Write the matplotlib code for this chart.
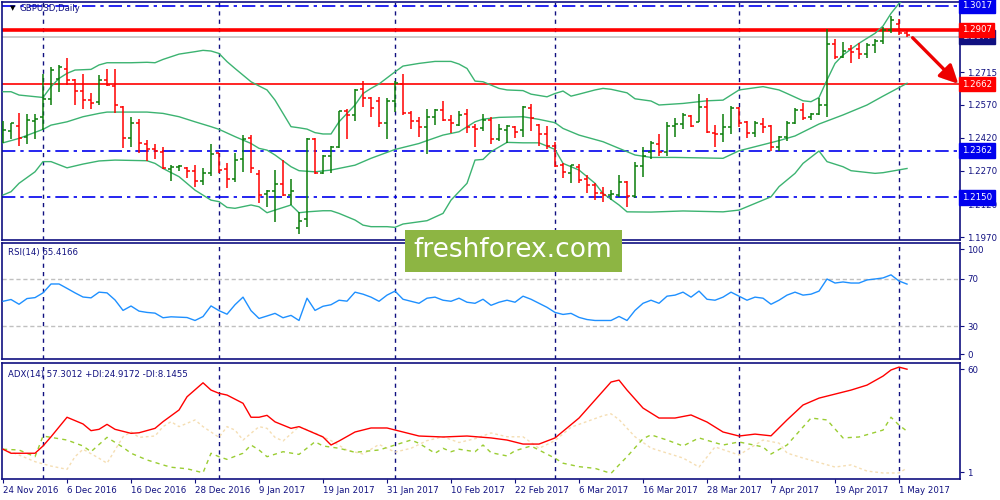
import numpy as np
import matplotlib.pyplot as plt
import matplotlib.patheffects as pe
from matplotlib.patches import Rectangle

# ---- GBPUSD daily bars, 24 Nov 2016 .. 2 May 2017 ----
opens = [1.2432, 1.2452, 1.2473, 1.2422, 1.2497, 1.2512, 1.2593, 1.2684, 1.2729, 1.2681,
         1.2631, 1.2589, 1.2581, 1.2681, 1.2655, 1.2557, 1.2417, 1.2485, 1.2391, 1.2370,
         1.2355, 1.2277, 1.2286, 1.2283, 1.2271, 1.2226, 1.2259, 1.2349, 1.2277, 1.2232,
         1.2322, 1.2417, 1.2256, 1.2165, 1.2177, 1.2211, 1.2162, 1.2010, 1.2051, 1.2414,
         1.2259, 1.2337, 1.2376, 1.2542, 1.2523, 1.2639, 1.2599, 1.2584, 1.2485, 1.2584,
         1.2663, 1.2530, 1.2494, 1.2467, 1.2512, 1.2545, 1.2500, 1.2476, 1.2527, 1.2470,
         1.2462, 1.2500, 1.2413, 1.2455, 1.2470, 1.2455, 1.2553, 1.2476, 1.2437, 1.2382,
         1.2295, 1.2262, 1.2289, 1.2232, 1.2208, 1.2171, 1.2159, 1.2159, 1.2220, 1.2156,
         1.2292, 1.2357, 1.2391, 1.2357, 1.2473, 1.2482, 1.2518, 1.2492, 1.2557, 1.2443,
         1.2437, 1.2470, 1.2553, 1.2492, 1.2443, 1.2482, 1.2473, 1.2379, 1.2422, 1.2488,
         1.2545, 1.2512, 1.2527, 1.2568, 1.2843, 1.2786, 1.2819, 1.2822, 1.2798, 1.2839,
         1.2859, 1.2907, 1.2934, 1.2892]
highs = [1.2497, 1.2488, 1.2530, 1.2526, 1.2526, 1.2706, 1.2738, 1.2750, 1.2780, 1.2684,
         1.2708, 1.2623, 1.2703, 1.2729, 1.2729, 1.2565, 1.2512, 1.2503, 1.2409, 1.2391,
         1.2376, 1.2299, 1.2298, 1.2289, 1.2295, 1.2281, 1.2391, 1.2352, 1.2304, 1.2349,
         1.2432, 1.2432, 1.2274, 1.2186, 1.2274, 1.2319, 1.2232, 1.2084, 1.2417, 1.2417,
         1.2342, 1.2382, 1.2542, 1.2548, 1.2639, 1.2676, 1.2605, 1.2602, 1.2599, 1.2676,
         1.2709, 1.2539, 1.2512, 1.2551, 1.2548, 1.2587, 1.2521, 1.2542, 1.2548, 1.2482,
         1.2527, 1.2512, 1.2482, 1.2479, 1.2473, 1.2563, 1.2572, 1.2482, 1.2473, 1.2400,
         1.2307, 1.2298, 1.2301, 1.2250, 1.2214, 1.2199, 1.2186, 1.2253, 1.2223, 1.2310,
         1.2379, 1.2403, 1.2437, 1.2492, 1.2507, 1.2530, 1.2523, 1.2617, 1.2598, 1.2476,
         1.2527, 1.2563, 1.2557, 1.2497, 1.2497, 1.2507, 1.2477, 1.2428, 1.2497, 1.2553,
         1.2575, 1.2533, 1.2598, 1.2910, 1.2865, 1.2854, 1.2839, 1.2847, 1.2847, 1.2865,
         1.2919, 1.2970, 1.2955, 1.2904]
lows = [1.2397, 1.2416, 1.2382, 1.2390, 1.2414, 1.2455, 1.2568, 1.2628, 1.2657, 1.2569,
        1.2548, 1.2550, 1.2568, 1.2655, 1.2530, 1.2375, 1.2379, 1.2352, 1.2313, 1.2322,
        1.2278, 1.2226, 1.2268, 1.2239, 1.2199, 1.2208, 1.2247, 1.2259, 1.2195, 1.2218,
        1.2266, 1.2259, 1.2123, 1.2105, 1.2037, 1.2156, 1.2114, 1.1985, 1.2015, 1.2256,
        1.2256, 1.2259, 1.2372, 1.2416, 1.2497, 1.2557, 1.2515, 1.2467, 1.2413, 1.2538,
        1.2524, 1.2458, 1.2425, 1.2345, 1.2476, 1.2497, 1.2440, 1.2473, 1.2440, 1.2379,
        1.2452, 1.2391, 1.2406, 1.2397, 1.2419, 1.2425, 1.2452, 1.2382, 1.2370, 1.2286,
        1.2238, 1.2214, 1.2217, 1.2168, 1.2138, 1.2131, 1.2138, 1.2153, 1.2105, 1.2147,
        1.2241, 1.2322, 1.2337, 1.2337, 1.2422, 1.2458, 1.2470, 1.2492, 1.2443, 1.2376,
        1.2402, 1.2437, 1.2467, 1.2417, 1.2422, 1.2443, 1.2361, 1.2361, 1.2406, 1.2482,
        1.2500, 1.2500, 1.2523, 1.2515, 1.2774, 1.2779, 1.2759, 1.2774, 1.2779, 1.2804,
        1.2843, 1.2892, 1.2884, 1.2874]
closes = [1.2455, 1.2485, 1.2417, 1.2500, 1.2503, 1.2593, 1.2726, 1.2738, 1.2681, 1.2631,
          1.2589, 1.2575, 1.2681, 1.2658, 1.2566, 1.2417, 1.2485, 1.2394, 1.2367, 1.2361,
          1.2283, 1.2289, 1.2292, 1.2271, 1.2226, 1.2262, 1.2346, 1.2274, 1.2235, 1.2319,
          1.2416, 1.2283, 1.2161, 1.2180, 1.2211, 1.2162, 1.2180, 1.2042, 1.2416, 1.2259,
          1.2337, 1.2376, 1.2539, 1.2523, 1.2636, 1.2599, 1.2554, 1.2485, 1.2584, 1.2666,
          1.2533, 1.2494, 1.2467, 1.2512, 1.2545, 1.2500, 1.2488, 1.2523, 1.2467, 1.2458,
          1.2500, 1.2416, 1.2458, 1.2473, 1.2446, 1.2557, 1.2509, 1.2437, 1.2382, 1.2292,
          1.2265, 1.2295, 1.2229, 1.2208, 1.2168, 1.2162, 1.2165, 1.2220, 1.2156, 1.2292,
          1.2337, 1.2397, 1.2357, 1.2473, 1.2482, 1.2523, 1.2473, 1.2557, 1.2447, 1.2437,
          1.2470, 1.2553, 1.2488, 1.2443, 1.2485, 1.2470, 1.2379, 1.2422, 1.2488, 1.2545,
          1.2507, 1.2527, 1.2568, 1.2843, 1.2783, 1.2813, 1.2809, 1.2798, 1.2839, 1.2859,
          1.2907, 1.2952, 1.2892, 1.2886]

# Bollinger bands (20, 2): bar index -> price
bb_up_idx = [0, 1, 2, 5, 6, 7, 8, 9, 11, 12, 13, 16, 18, 19, 20, 22, 24, 25, 26, 27, 28, 29,
             30, 31, 32, 33, 34, 35, 36, 37, 38, 39, 40, 41, 42, 44, 45, 46, 47, 49, 50, 52,
             54, 56, 57, 58, 59, 60, 62, 63, 65, 66, 68, 69, 70, 71, 72, 74, 75, 76, 78, 79,
             81, 82, 85, 88, 90, 91, 92, 95, 97, 98, 100, 101, 102, 103, 104, 105, 107, 109,
             110, 111, 112, 113]
bb_up = [1.2628, 1.2628, 1.2613, 1.2602, 1.2651, 1.2688, 1.2711, 1.2726, 1.2729, 1.2749,
         1.2759, 1.2759, 1.2761, 1.2759, 1.2774, 1.2798, 1.2809, 1.2815, 1.2812, 1.2801,
         1.2764, 1.2733, 1.2703, 1.2673, 1.2654, 1.2636, 1.2590, 1.2530, 1.2470, 1.2465,
         1.2459, 1.2443, 1.2437, 1.2437, 1.2492, 1.2568, 1.2620, 1.2643, 1.2663, 1.2718,
         1.2744, 1.2756, 1.2765, 1.2765, 1.2753, 1.2733, 1.2676, 1.2673, 1.2643, 1.2636,
         1.2633, 1.2617, 1.2605, 1.2620, 1.2631, 1.2608, 1.2617, 1.2636, 1.2643, 1.2639,
         1.2623, 1.2596, 1.2586, 1.2568, 1.2575, 1.2587, 1.2590, 1.2613, 1.2636, 1.2651,
         1.2636, 1.2620, 1.2587, 1.2583, 1.2602, 1.2681, 1.2756, 1.2794, 1.2847, 1.2892,
         1.2925, 1.2982, 1.3027, 1.3057]
bb_mid_idx = [0, 2, 5, 6, 8, 10, 12, 13, 16, 18, 20, 22, 24, 26, 27, 29, 31, 32, 33, 34, 36,
              37, 39, 41, 44, 46, 49, 52, 53, 55, 57, 59, 60, 62, 65, 67, 69, 70, 72, 75, 77,
              79, 81, 84, 90, 92, 97, 99, 102, 105, 108, 110, 113]
bb_mid = [1.2397, 1.2417, 1.2458, 1.2477, 1.2492, 1.2515, 1.2530, 1.2536, 1.2536, 1.2536,
          1.2530, 1.2515, 1.2492, 1.2470, 1.2458, 1.2425, 1.2394, 1.2372, 1.2364, 1.2342,
          1.2289, 1.2271, 1.2266, 1.2274, 1.2296, 1.2327, 1.2367, 1.2394, 1.2407, 1.2432,
          1.2447, 1.2492, 1.2504, 1.2512, 1.2515, 1.2503, 1.2488, 1.2462, 1.2432, 1.2402,
          1.2372, 1.2342, 1.2331, 1.2331, 1.2327, 1.2361, 1.2407, 1.2428, 1.2482, 1.2523,
          1.2568, 1.2608, 1.2666]
bb_low_idx = [0, 1, 2, 4, 5, 6, 8, 10, 12, 14, 18, 19, 20, 22, 24, 26, 27, 28, 29, 31, 32,
              33, 34, 36, 37, 38, 40, 41, 42, 44, 45, 46, 48, 49, 50, 52, 53, 55, 56, 58, 59,
              60, 61, 63, 65, 67, 69, 70, 72, 74, 75, 77, 78, 81, 85, 90, 92, 95, 96, 97, 99,
              100, 102, 103, 105, 106, 109, 110, 113]
bb_low = [1.2161, 1.2176, 1.2214, 1.2266, 1.2312, 1.2312, 1.2284, 1.2301, 1.2315, 1.2319,
          1.2316, 1.2304, 1.2281, 1.2244, 1.2183, 1.2138, 1.2131, 1.2105, 1.2101, 1.2116,
          1.2108, 1.2081, 1.2093, 1.2116, 1.2081, 1.2085, 1.2090, 1.2090, 1.2078, 1.2048,
          1.2025, 1.2018, 1.2018, 1.2015, 1.2030, 1.2040, 1.2045, 1.2078, 1.2138, 1.2214,
          1.2319, 1.2322, 1.2357, 1.2399, 1.2397, 1.2397, 1.2367, 1.2304, 1.2274, 1.2214,
          1.2168, 1.2116, 1.2085, 1.2084, 1.2089, 1.2085, 1.2093, 1.2138, 1.2153, 1.2199,
          1.2259, 1.2304, 1.2360, 1.2312, 1.2289, 1.2271, 1.2259, 1.2262, 1.2281]

# RSI(14), one value per bar
rsi = [50.9, 52.4, 48.4, 53.2, 54.0, 58.0, 65.5, 65.5, 61.8, 58.0,
       54.5, 53.8, 58.6, 58.0, 52.0, 43.2, 46.9, 42.6, 41.5, 40.9,
       37.0, 37.8, 37.5, 37.2, 34.7, 38.0, 47.0, 43.0, 40.0, 48.0,
       54.4, 43.0, 36.4, 38.5, 40.7, 37.0, 39.0, 34.7, 53.5, 43.2,
       46.7, 48.0, 51.8, 51.0, 58.6, 56.9, 54.4, 50.9, 56.1, 59.5,
       52.6, 50.9, 49.2, 53.5, 54.4, 51.8, 50.9, 53.5, 50.1, 49.2,
       52.6, 47.5, 50.1, 51.8, 50.1, 55.2, 52.6, 49.2, 45.8, 41.5,
       39.8, 40.7, 37.3, 35.5, 34.7, 34.7, 34.7, 38.1, 34.7, 43.2,
       49.2, 51.8, 49.2, 55.2, 56.1, 58.6, 54.4, 59.5, 52.6, 51.8,
       54.4, 58.6, 55.2, 51.8, 54.4, 53.5, 48.4, 51.8, 56.1, 58.6,
       56.1, 56.9, 59.5, 69.7, 66.3, 67.2, 66.3, 66.3, 68.9, 69.7,
       70.6, 73.2, 68.0, 65.4]

# ADX(14) with +DI / -DI, read at sample bars
adx_idx = [0, 1, 4, 5, 6, 8, 10, 11, 12, 13, 14, 16, 17, 19, 20, 22, 23, 25, 26, 27, 28, 30,
           31, 32, 33, 34, 36, 37, 40, 41, 42, 44, 46, 48, 50, 52, 55, 58, 61, 63, 65, 67,
           69, 72, 74, 76, 77, 78, 80, 82, 84, 86, 88, 90, 92, 94, 96, 98, 100, 102, 104,
           106, 108, 110, 111, 112, 113]
adx = [15.5, 13.4, 13.4, 17.2, 22.0, 32.2, 28.7, 25.2, 25.9, 28.5, 25.9, 23.8, 24.1, 26.4,
       29.9, 36.0, 42.9, 50.2, 46.4, 44.7, 43.8, 39.5, 32.2, 32.2, 33.2, 29.8, 26.4, 27.3,
       21.9, 17.7, 19.8, 24.5, 26.6, 26.6, 24.5, 22.4, 21.9, 22.4, 21.4, 20.3, 18.2, 18.2,
       21.4, 31.8, 41.2, 50.6, 51.6, 46.4, 37.0, 31.8, 31.8, 33.4, 29.7, 24.5, 22.4, 23.4,
       22.5, 30.8, 38.6, 42.2, 44.3, 46.4, 49.0, 53.7, 56.9, 58.4, 57.3]
pdi_idx = [0, 2, 4, 5, 6, 8, 10, 11, 13, 15, 16, 18, 20, 21, 23, 25, 26, 27, 28, 30, 31, 32,
           33, 35, 37, 39, 40, 42, 44, 47, 49, 51, 52, 54, 55, 56, 57, 59, 60, 61, 63, 64,
           66, 69, 70, 72, 74, 76, 77, 78, 80, 81, 83, 85, 87, 90, 92, 95, 96, 98, 101, 103,
           105, 107, 110, 111, 112, 113]
pdi = [15.5, 15.1, 11.6, 22.4, 21.7, 20.3, 17.2, 14.2, 21.7, 16.5, 13.4, 9.9, 7.3, 6.1, 5.3,
       3.2, 13.4, 11.6, 10.2, 13.4, 17.7, 15.1, 11.6, 14.2, 12.8, 19.4, 17.2, 16.0, 13.9,
       15.1, 17.7, 20.3, 18.6, 13.4, 16.0, 14.2, 15.5, 14.2, 17.7, 13.7, 12.0, 14.7, 17.2,
       10.8, 8.2, 6.4, 5.5, 2.9, 7.3, 11.6, 21.0, 23.0, 20.3, 17.2, 21.4, 17.7, 19.3, 16.7,
       13.0, 17.7, 31.8, 30.8, 21.4, 21.9, 25.5, 32.2, 28.1, 24.9]
mdi_idx = [0, 2, 4, 6, 8, 9, 10, 12, 13, 15, 16, 17, 19, 20, 21, 22, 24, 25, 27, 28, 29, 30,
           32, 33, 34, 35, 37, 39, 41, 43, 45, 47, 49, 51, 53, 55, 57, 59, 61, 63, 65, 67,
           69, 71, 73, 75, 76, 77, 79, 81, 83, 85, 87, 89, 92, 95, 97, 98, 100, 104, 106,
           108, 110, 112, 113]
mdi = [15.5, 12.5, 9.0, 6.7, 5.0, 11.6, 15.5, 10.8, 8.2, 22.0, 24.6, 21.7, 22.4, 27.3, 29.9,
       27.3, 30.8, 27.3, 21.7, 27.3, 25.5, 20.3, 27.3, 26.4, 21.7, 19.8, 27.3, 24.0, 20.0,
       15.0, 13.0, 18.0, 14.0, 16.0, 20.0, 22.0, 19.0, 21.0, 24.0, 22.0, 22.0, 16.0, 20.0,
       27.0, 30.0, 33.0, 34.0, 31.0, 22.0, 16.1, 13.5, 10.9, 6.2, 16.7, 12.5, 20.3, 18.7,
       13.5, 10.9, 6.2, 7.3, 4.1, 3.1, 3.1, 5.7]

# axis text
month_start_idx = [5, 27, 49, 69, 92, 112]
date_tick_idx = [0, 8, 16, 24, 32, 40, 48, 56, 64, 72, 80, 88, 96, 104, 112]
date_labels = ["24 Nov 2016", "6 Dec 2016", "16 Dec 2016", "28 Dec 2016", "9 Jan 2017",
               "19 Jan 2017", "31 Jan 2017", "10 Feb 2017", "22 Feb 2017", "6 Mar 2017",
               "16 Mar 2017", "28 Mar 2017", "7 Apr 2017", "19 Apr 2017", "1 May 2017"]
price_ticks = [1.2715, 1.2570, 1.2420, 1.2270, 1.2120, 1.1970]
blue_levels = [1.3017, 1.2362, 1.2150]
red_levels = [1.2907, 1.2662]
bid_level = 1.2877

NAVY = "#101080"
BULL = "#0a7d0a"
BEAR = "#ff0000"
BAND = "#3cb371"
FS = 6.2

plt.rcParams["font.family"] = ["DejaVu Sans"]

fig = plt.figure(figsize=(10, 5), dpi=100)
W, H = 1000.0, 500.0


def panel(top_px, bottom_px):
    return fig.add_axes([2.3 / W, 1 - bottom_px / H, 958 / W, (bottom_px - top_px) / H])


ax = panel(2.3, 239.5)
ax_rsi = panel(242.5, 359)
ax_adx = panel(362.7, 479)

for a in (ax, ax_rsi, ax_adx):
    a.set_xlim(-0.09, 119.66)
    for s in a.spines.values():
        s.set_color(NAVY)
        s.set_linewidth(1.2)
    a.yaxis.tick_right()
    a.tick_params(axis="y", colors=NAVY, labelsize=FS, length=3, width=0.8, pad=2)
    a.tick_params(axis="x", colors=NAVY, labelsize=FS, length=3, width=0.8)
    for m in month_start_idx:
        a.axvline(m, color=NAVY, ls=(0, (3, 3)), lw=1.0, zorder=1)
    if a is not ax_adx:
        a.set_xticks([])

# ---- price panel ----
ax.set_ylim(1.1960, 1.30322)
idx = np.arange(len(opens))
o = np.array(opens); h = np.array(highs); l = np.array(lows); c = np.array(closes)
cols = [BULL if cc >= oo else BEAR for oo, cc in zip(o, c)]
ax.vlines(idx, l, h, colors=cols, lw=1.1, zorder=4)
ax.hlines(o, idx - 0.4, idx, colors=cols, lw=1.1, zorder=4)
ax.hlines(c, idx, idx + 0.4, colors=cols, lw=1.1, zorder=4)

ax.plot(bb_up_idx, bb_up, color=BAND, lw=1.0, zorder=3)
ax.plot(bb_mid_idx, bb_mid, color=BAND, lw=1.0, zorder=3)
ax.plot(bb_low_idx, bb_low, color=BAND, lw=1.0, zorder=3)

for lv in blue_levels:
    ax.axhline(lv, color="#0000ee", ls=(0, (8, 3, 2, 3)), lw=1.2, zorder=2)
ax.axhline(bid_level, color="#c8c8c8", lw=1.3, zorder=2)
ax.axhline(red_levels[0], color="red", lw=2.6, zorder=2)
ax.axhline(red_levels[1], color="red", lw=1.2, zorder=2)

ax.set_yticks(price_ticks)
ax.set_yticklabels([f"{t:.4f}" for t in price_ticks])

# boxed level labels; the bid box sits partly under the 1.2907 box as in MT4
boxes = [(bid_level, NAVY), (red_levels[0], "red"), (red_levels[1], "red")] + \
        [(lv, "#0000ee") for lv in blue_levels]
for lv, col in boxes:
    ax.text(1.0016, lv, f"{lv:.4f}", transform=ax.get_yaxis_transform(), ha="left",
            va="center", color="white", fontsize=FS, zorder=6, clip_on=False,
            bbox=dict(boxstyle="square,pad=0.3", fc=col, ec=col))

arr = ax.annotate("", xy=(119.4, 1.2664), xytext=(113.7, 1.2872), annotation_clip=False,
                  arrowprops=dict(arrowstyle="-|>,head_length=1.1,head_width=0.55",
                                  color="#ee0000", lw=2.4, shrinkA=0, shrinkB=0))
arr.arrow_patch.set_path_effects([
    pe.SimplePatchShadow(offset=(2, -2), shadow_rgbFace="#808080", alpha=0.45),
    pe.Normal()])

ax.text(0.008, 0.975, "\u25bc", transform=ax.transAxes, fontsize=5, color="black",
        va="center", ha="left")
ax.text(0.018, 0.975, "GBPUSD,Daily", transform=ax.transAxes, fontsize=FS, color=NAVY,
        va="center", ha="left")

# ---- RSI panel ----
ax_rsi.set_ylim(2.2, 100.5)
ax_rsi.axhline(70, color="#c0c0c0", ls=(0, (3, 2)), lw=1.0, zorder=1)
ax_rsi.axhline(30, color="#c0c0c0", ls=(0, (3, 2)), lw=1.0, zorder=1)
ax_rsi.plot(idx, rsi, color="#1e90ff", lw=1.0, zorder=3)
ax_rsi.set_yticks([95, 70, 30, 6.2])
ax_rsi.set_yticklabels(["100", "70", "30", "0"])
ax_rsi.text(0.006, 0.91, "RSI(14) 65.4166", transform=ax_rsi.transAxes, fontsize=FS,
            color=NAVY, va="center", ha="left")

# ---- ADX panel ----
ax_adx.set_ylim(-0.05, 60.7)
ax_adx.plot(mdi_idx, mdi, color="#f5deb3", ls=(0, (2, 2)), lw=1.0, zorder=2)
ax_adx.plot(pdi_idx, pdi, color="#9acd32", ls=(0, (3, 3)), lw=1.0, zorder=3)
ax_adx.plot(adx_idx, adx, color="red", lw=1.0, zorder=4)
ax_adx.set_yticks([57.2, 3.5])
ax_adx.set_yticklabels(["60", "1"])
ax_adx.set_xticks(date_tick_idx)
ax_adx.set_xticklabels(date_labels, ha="left")
ax_adx.tick_params(axis="x", pad=2)
ax_adx.text(0.006, 0.9, "ADX(14) 57.3012 +DI:24.9172 -DI:8.1455", transform=ax_adx.transAxes,
            fontsize=FS, color=NAVY, va="center", ha="left")

# ---- watermark ----
fig.add_artist(Rectangle((405 / W, 1 - 272 / H), 217 / W, 42 / H, transform=fig.transFigure,
                         facecolor="#8db543", edgecolor="none", zorder=10))
fig.text(513 / W, 1 - 250 / H, "freshforex.com", ha="center", va="center", color="white",
         fontsize=19, zorder=11)

fig.savefig("out.png", dpi=100)
